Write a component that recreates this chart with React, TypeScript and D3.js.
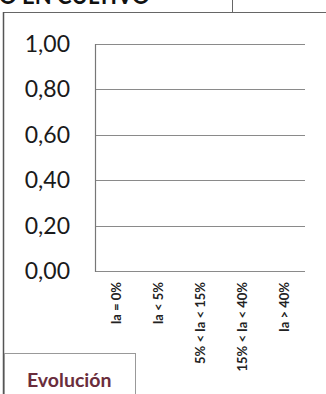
import React from "react";
import * as d3 from "d3";

const categories = ["Ia = 0%", "Ia < 5%", "5% < Ia < 15%", "15% < Ia < 40%", "Ia > 40%"];
const values = [0, 0, 0, 0, 0];
const yTicks = [0, 0.2, 0.4, 0.6, 0.8, 1.0];
const titleText = "O EN CULTIVO";
const tabText = "Evolución";

export default function App() {
  const W = 326, H = 394;
  const x = d3.scaleBand<string>().domain(categories).range([95, 305]);
  const y = d3.scaleLinear().domain([0, 1]).range([271, 44]);
  const fmt = (v: number) => v.toFixed(2).replace(".", ",");
  const font = "Lato, 'Liberation Sans', Arial, sans-serif";
  return (
    <svg width={W} height={H} style={{ position: "absolute", left: 0, top: 0, background: "#fff" }}>
      <rect x={0} y={0} width={W} height={H} fill="#fff" />
      {/* cropped title */}
      <text x={-1} y={3.5} fontFamily={font} fontWeight="bold" fontSize={22} fill="#111">{titleText}</text>
      {/* frame */}
      <line x1={232.5} y1={0} x2={232.5} y2={12} stroke="#666" strokeWidth={1} />
      <line x1={3} y1={12.5} x2={W} y2={12.5} stroke="#666" strokeWidth={1.2} />
      <line x1={3.5} y1={12} x2={3.5} y2={H} stroke="#555" strokeWidth={1.5} />
      {/* gridlines */}
      {yTicks.map((t) => (
        <line key={"g" + t} x1={95} x2={305} y1={Math.round(y(t)) + 0.5} y2={Math.round(y(t)) + 0.5} stroke="#8a8a8a" strokeWidth={1} />
      ))}
      <line x1={95.5} x2={95.5} y1={y(1)} y2={y(0) + 1} stroke="#777" strokeWidth={1.2} />
      {/* bars (zero values) */}
      {categories.map((c, i) => (
        <rect key={"b" + c} x={x(c)! + x.bandwidth() * 0.2} width={x.bandwidth() * 0.6} y={y(values[i])} height={y(0) - y(values[i])} fill="#4f81bd" />
      ))}
      {/* y labels */}
      {yTicks.map((t) => (
        <text key={"t" + t} x={70} y={y(t) + 8} textAnchor="end" fontFamily={font} fontSize={23} fill="#1a1a1a">{fmt(t)}</text>
      ))}
      {/* x labels */}
      {categories.map((c) => {
        const cx = x(c)! + x.bandwidth() / 2;
        return (
          <text key={"x" + c} transform={`translate(${cx + 4.5},282) rotate(-90)`} textAnchor="end" fontFamily={font} fontWeight="bold" fontSize={13} fill="#222">{c}</text>
        );
      })}
      {/* tab */}
      <rect x={4.5} y={353.5} width={131} height={50} fill="#fff" stroke="#999" strokeWidth={1} />
      <text x={27} y={387} fontFamily={font} fontWeight="bold" fontSize={19.5} fill="#6a2d3c">{tabText}</text>
    </svg>
  );
}
